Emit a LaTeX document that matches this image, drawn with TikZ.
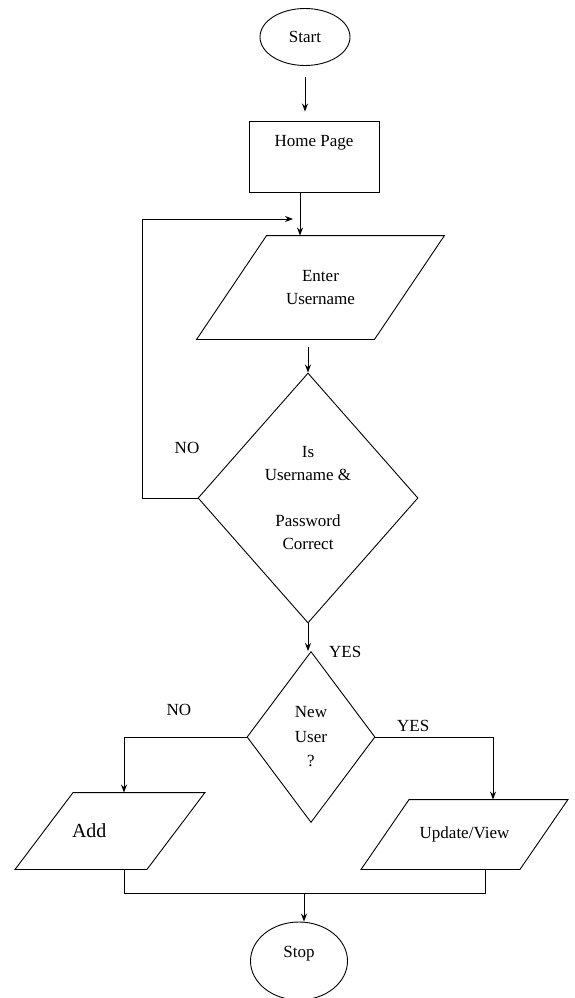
\documentclass[tikz,border=0pt]{standalone}
\usepackage{fontspec}
\setmainfont{Liberation Serif}
\usetikzlibrary{shapes.geometric, arrows.meta}

\tikzset{
  flow/.style={draw, line width=0.9pt, font=\fontsize{17}{23}\selectfont, align=center, inner sep=2pt},
  terminal/.style={flow, ellipse},
  process/.style={flow, rectangle},
  io/.style={flow, rectangle, draw=none,
    append after command={\pgfextra{\let\ionode=\tikzlastnode
      \draw[line width=0.9pt] ([xshift=#1]\ionode.north west) -- ([xshift=#1]\ionode.north east)
        -- ([xshift=-#1]\ionode.south east) -- ([xshift=-#1]\ionode.south west) -- cycle;}}},
  decision/.style={flow, diamond},
  link/.style={line width=0.9pt, -{Stealth[length=8pt,width=6pt]}},
  tag/.style={font=\fontsize{17}{20}\selectfont, inner sep=0pt},
}

\begin{document}
\begin{tikzpicture}[x=1pt,y=1pt,yscale=-1]
\useasboundingbox (0,0) rectangle (574,998);

% Start / Stop
\node[terminal, minimum width=90pt, minimum height=57pt] (start) at (305,37) {Start};
\node[terminal, minimum width=97pt, minimum height=78pt, text height=12pt, text depth=20pt] (stop) at (299,961) {Stop};

% Home Page
\node[process, minimum width=130pt, minimum height=71pt, text height=12pt, text depth=32pt] (home) at (314,156.5) {Home Page};

% Enter Username
\node[io=35pt, minimum width=177pt, minimum height=103pt] (enter) at (320.5,287.5) {Enter\\Username};

% Decisions
\node[decision, minimum width=220pt, minimum height=250pt, aspect=0.88] (check) at (308,498) {Is\\Username \&\\[23pt]Password\\Correct};
\node[decision, minimum width=128pt, minimum height=171pt, aspect=0.75, font=\fontsize{17}{24.5}\selectfont] (newuser) at (311,737) {New\\User\\?};

% Add / Update
\node[io=29pt, minimum width=131pt, minimum height=76pt, font=\fontsize{20}{24}\selectfont, align=left, inner xsep=27.5pt, text width=76pt] (add) at (110,831) {Add};
\node[io=24pt, minimum width=158pt, minimum height=69pt] (update) at (464.5,834.5) {Update/View};

% Straight Lines
\draw[link, shorten <=11pt, shorten >=9pt] (start.south) -- (start.south |- home.north);
\draw[link] ([xshift=-14pt]home.south) -- ([xshift=-14pt]home.south |- enter.north);
\draw[link, shorten <=8pt] (enter.south -| check.north) -- (check.north);
\coordinate (loopin) at (293,219);
\draw[link] (check.west) -- ++(-55,0) |- (loopin);
\draw[link] (check.south) -- (check.south |- newuser.north);
\draw[link] (newuser.west) -| ([xshift=14pt]add.north);
\draw[link] (newuser.east) -| ([xshift=28.5pt]update.north);
\coordinate (join) at (304,893);
\draw[line width=0.9pt] ([xshift=14pt]add.south) |- (join) -| ([xshift=20.5pt]update.south);
\draw[link] (join) -- (join |- stop.north);

% Text Node
\node[tag] (nologin) at (187,448) {NO};
% Text Node
\node[tag, anchor=west] (yeslogin) at (329,652) {YES};
% Text Node
\node[tag] (nonew) at (179,710) {NO};
% Text Node
\node[tag, anchor=west] (yesnew) at (397,726) {YES};

\end{tikzpicture}
\end{document}
